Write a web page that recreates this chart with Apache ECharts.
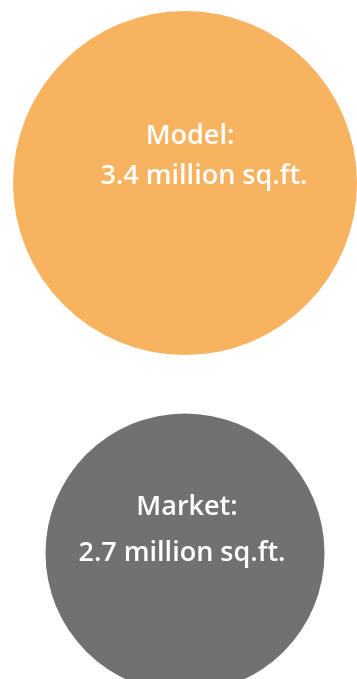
<!DOCTYPE html>
<html>
<head>
<meta charset="utf-8">
<script src="https://cdn.jsdelivr.net/npm/echarts@6/dist/echarts.min.js"></script>
<style>
  html, body { margin: 0; padding: 0; background: #fff; }
  #chart { width: 357px; height: 679px; }
</style>
</head>
<body>
<div id="chart"></div>
<script>
// two circles, size follows the value
var names = ['Model', 'Market'];
var values = [3.4, 2.7];   // million sq.ft.
var colors = ['#F7B360', '#717172'];

var chart = echarts.init(document.getElementById('chart'));

// per-circle label placement (the text is not exactly centered in the picture)
var labelOffsets = [[19, -27], [-3, -23]];
var lineHeights = [40, 46];
var firstLinePad = [[0, 28, 0, 0], [0, 0, 0, 10]];

var points = [];
for (var i = 0; i < names.length; i++) {
    points.push({
        name: names[i],
        value: ['area', names[i], values[i]],
        itemStyle: { color: colors[i], opacity: 1 },
        label: {
            offset: labelOffsets[i],
            rich: {
                a: { lineHeight: lineHeights[i], padding: firstLinePad[i] },
                b: { lineHeight: lineHeights[i] }
            }
        }
    });
}

var option = {
    animation: false,
    grid: { left: 13, right: 0, top: 183, bottom: 126 },
    xAxis: { type: 'category', data: ['area'], show: false },
    yAxis: { type: 'category', data: names, inverse: true, show: false, boundaryGap: false },
    visualMap: {
        show: false,
        dimension: 2,
        min: 2.7,
        max: 3.4,
        inRange: { symbolSize: [279, 344] }
    },
    series: [{
        type: 'scatter',
        data: points,
        symbol: 'circle',
        label: {
            show: true,
            position: 'inside',
            color: '#fff',
            fontFamily: 'Open Sans',
            fontWeight: 600,
            fontSize: 27,
            formatter: function (p) {
                return '{a|' + p.name + ':}\n{b|' + p.value[2] + ' million sq.ft.}';
            },
            rich: {
                a: { color: '#fff', fontFamily: 'Open Sans', fontWeight: 600, fontSize: 27 },
                b: { color: '#fff', fontFamily: 'Open Sans', fontWeight: 600, fontSize: 27 }
            }
        }
    }]
};
chart.setOption(option);
</script>
</body>
</html>
